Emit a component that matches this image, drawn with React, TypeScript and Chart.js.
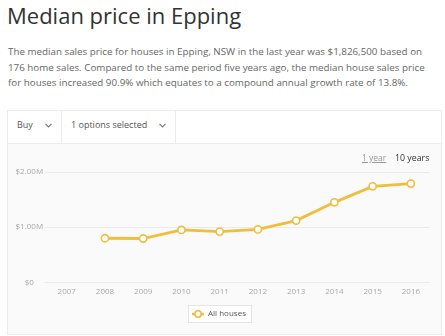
import React, { useEffect, useRef } from "react";
import { Chart, registerables } from "chart.js";

Chart.register(...registerables);

const years = ["2007", "2008", "2009", "2010", "2011", "2012", "2013", "2014", "2015", "2016"];
const allHouses: (number | null)[] = [null, 800000, 795000, 950000, 920000, 960000, 1120000, 1450000, 1740000, 1790000];
const seriesLabel = "All houses";
const yTickValues = [0, 1000000, 2000000];

const GOLD = "#efbe3f";
const FONT = "'Open Sans', 'Lato', sans-serif";

function fmtMoney(v: number): string {
  if (v === 0) return "$0";
  return "$" + (v / 1000000).toFixed(2) + "M";
}

function makeLegendIcon(): HTMLCanvasElement {
  const c = document.createElement("canvas");
  c.width = 12;
  c.height = 10;
  const ctx = c.getContext("2d")!;
  ctx.strokeStyle = GOLD;
  ctx.lineWidth = 2.5;
  ctx.beginPath();
  ctx.moveTo(0, 5);
  ctx.lineTo(12, 5);
  ctx.stroke();
  ctx.beginPath();
  ctx.arc(6, 5, 3.2, 0, Math.PI * 2);
  ctx.fillStyle = "#fff";
  ctx.fill();
  ctx.lineWidth = 1.6;
  ctx.stroke();
  return c;
}

const legendBoxPlugin = {
  id: "legendBox",
  beforeDraw(chart: any) {
    const lg = chart.legend;
    if (!lg || !lg.legendHitBoxes || !lg.legendHitBoxes.length) return;
    const hb = lg.legendHitBoxes[0];
    const ctx = chart.ctx;
    ctx.save();
    const x = Math.round(hb.left - 4) + 0.5;
    const y = Math.round(hb.top - 5) + 0.5;
    const w = Math.round(hb.width + 9);
    const h = Math.round(hb.height + 9);
    ctx.fillStyle = "#ffffff";
    ctx.fillRect(x, y, w, h);
    ctx.strokeStyle = "#e4e4e4";
    ctx.lineWidth = 1;
    ctx.strokeRect(x, y, w, h);
    ctx.restore();
  },
};

function Chevron({ left, top }: { left: number; top: number }) {
  return (
    <svg width="7" height="5" style={{ position: "absolute", left, top }}>
      <polyline points="0.5,0.8 3.5,3.8 6.5,0.8" fill="none" stroke="#777" strokeWidth="1.2" />
    </svg>
  );
}

export default function App() {
  const canvasRef = useRef<HTMLCanvasElement | null>(null);

  useEffect(() => {
    const canvas = canvasRef.current;
    if (!canvas) return;
    const icon = makeLegendIcon();
    const chart = new Chart(canvas, {
      type: "line",
      data: {
        labels: years,
        datasets: [
          {
            label: seriesLabel,
            data: allHouses,
            borderColor: GOLD,
            backgroundColor: "#ffffff",
            borderWidth: 2.8,
            pointRadius: 3.6,
            pointBorderWidth: 1.6,
            pointBackgroundColor: "#ffffff",
            pointBorderColor: GOLD,
            tension: 0,
            fill: false,
          },
        ],
      },
      options: {
        responsive: false,
        animation: false,
        devicePixelRatio: 1,
        layout: { padding: { left: 0, right: 10, top: 28, bottom: 4 } },
        plugins: {
          tooltip: { enabled: false },
          legend: {
            position: "bottom",
            labels: {
              usePointStyle: true,
              pointStyleWidth: 12,
              padding: 9,
              color: "#555",
              font: { family: FONT, size: 8 },
              generateLabels: (ch: any) =>
                ch.data.datasets.map((ds: any, i: number) => ({
                  text: ds.label,
                  pointStyle: icon,
                  fillStyle: "#fff",
                  strokeStyle: GOLD,
                  lineWidth: 0,
                  hidden: false,
                  datasetIndex: i,
                  fontColor: "#555",
                })),
            },
          },
        },
        scales: {
          x: {
            type: "category",
            offset: true,
            grid: { display: false, drawTicks: false },
            border: { display: false },
            ticks: {
              color: "#a8a8a8",
              padding: 4.5,
              maxRotation: 0,
              autoSkip: false,
              font: { family: FONT, size: 8 },
            },
          },
          y: {
            min: 0,
            max: 2000000,
            afterFit: (axis: any) => {
              axis.width = 39.6;
            },
            afterBuildTicks: (axis: any) => {
              axis.ticks = yTickValues.map((v) => ({ value: v }));
            },
            border: { display: false },
            grid: { color: "#ebebeb", lineWidth: 1, drawTicks: true, tickLength: 3, tickColor: "#ebebeb" },
            ticks: {
              color: "#a8a8a8",
              padding: 1.5,
              crossAlign: "center",
              font: { family: FONT, size: 8 },
              callback: (v: any) => fmtMoney(Number(v)),
            },
          },
        },
      },
      plugins: [legendBoxPlugin],
    } as any);
    return () => chart.destroy();
  }, []);

  const para: React.CSSProperties = {
    position: "absolute",
    left: 8,
    whiteSpace: "nowrap",
    fontFamily: FONT,
    fontSize: 9.8,
    color: "#666",
    lineHeight: "14px",
  };

  return (
    <div
      style={{
        position: "fixed",
        left: 0,
        top: 0,
        width: 445,
        height: 336,
        background: "#ffffff",
        overflow: "hidden",
        fontFamily: FONT,
      }}
    >
      <div
        style={{
          position: "absolute",
          left: 7,
          top: 0,
          fontSize: 22,
          color: "#333",
          whiteSpace: "nowrap",
          lineHeight: "30px",
        }}
      >
        Median price in Epping
      </div>
      <div style={{ ...para, top: 45 }}>
        The median sales price for houses in Epping, NSW in the last year was $1,826,500 based on
      </div>
      <div style={{ ...para, top: 61 }}>
        176 home sales. Compared to the same period five years ago, the median house sales price
      </div>
      <div style={{ ...para, top: 76 }}>
        for houses increased 90.9% which equates to a compound annual growth rate of 13.8%.
      </div>

      {/* toolbar */}
      <div
        style={{
          position: "absolute",
          left: 7,
          top: 110,
          width: 433,
          height: 32,
          border: "1px solid #ececec",
          borderBottom: "none",
          background: "#fff",
        }}
      />
      <div style={{ position: "absolute", left: 61, top: 110, width: 1, height: 33, background: "#ececec" }} />
      <div style={{ position: "absolute", left: 175, top: 110, width: 1, height: 33, background: "#ececec" }} />
      <div style={{ position: "absolute", left: 17, top: 118, fontSize: 9, color: "#555", lineHeight: "14px" }}>Buy</div>
      <Chevron left={45} top={123} />
      <div style={{ position: "absolute", left: 71, top: 118, fontSize: 9, color: "#555", lineHeight: "14px", whiteSpace: "nowrap" }}>
        1 options selected
      </div>
      <Chevron left={159} top={123} />

      {/* chart panel */}
      <div
        style={{
          position: "absolute",
          left: 7,
          top: 143,
          width: 433,
          height: 190,
          border: "1px solid #ececec",
          background: "#fafafa",
        }}
      />
      <canvas
        ref={canvasRef}
        width={432}
        height={188}
        style={{ position: "absolute", left: 8, top: 144, width: 432, height: 188 }}
      />
      <div
        style={{
          position: "absolute",
          left: 362,
          top: 151,
          fontSize: 8.5,
          color: "#999",
          textDecoration: "underline",
          lineHeight: "14px",
          whiteSpace: "nowrap",
        }}
      >
        1 year
      </div>
      <div
        style={{
          position: "absolute",
          left: 395,
          top: 151,
          fontSize: 8.8,
          color: "#333",
          lineHeight: "14px",
          whiteSpace: "nowrap",
        }}
      >
        10 years
      </div>
    </div>
  );
}
